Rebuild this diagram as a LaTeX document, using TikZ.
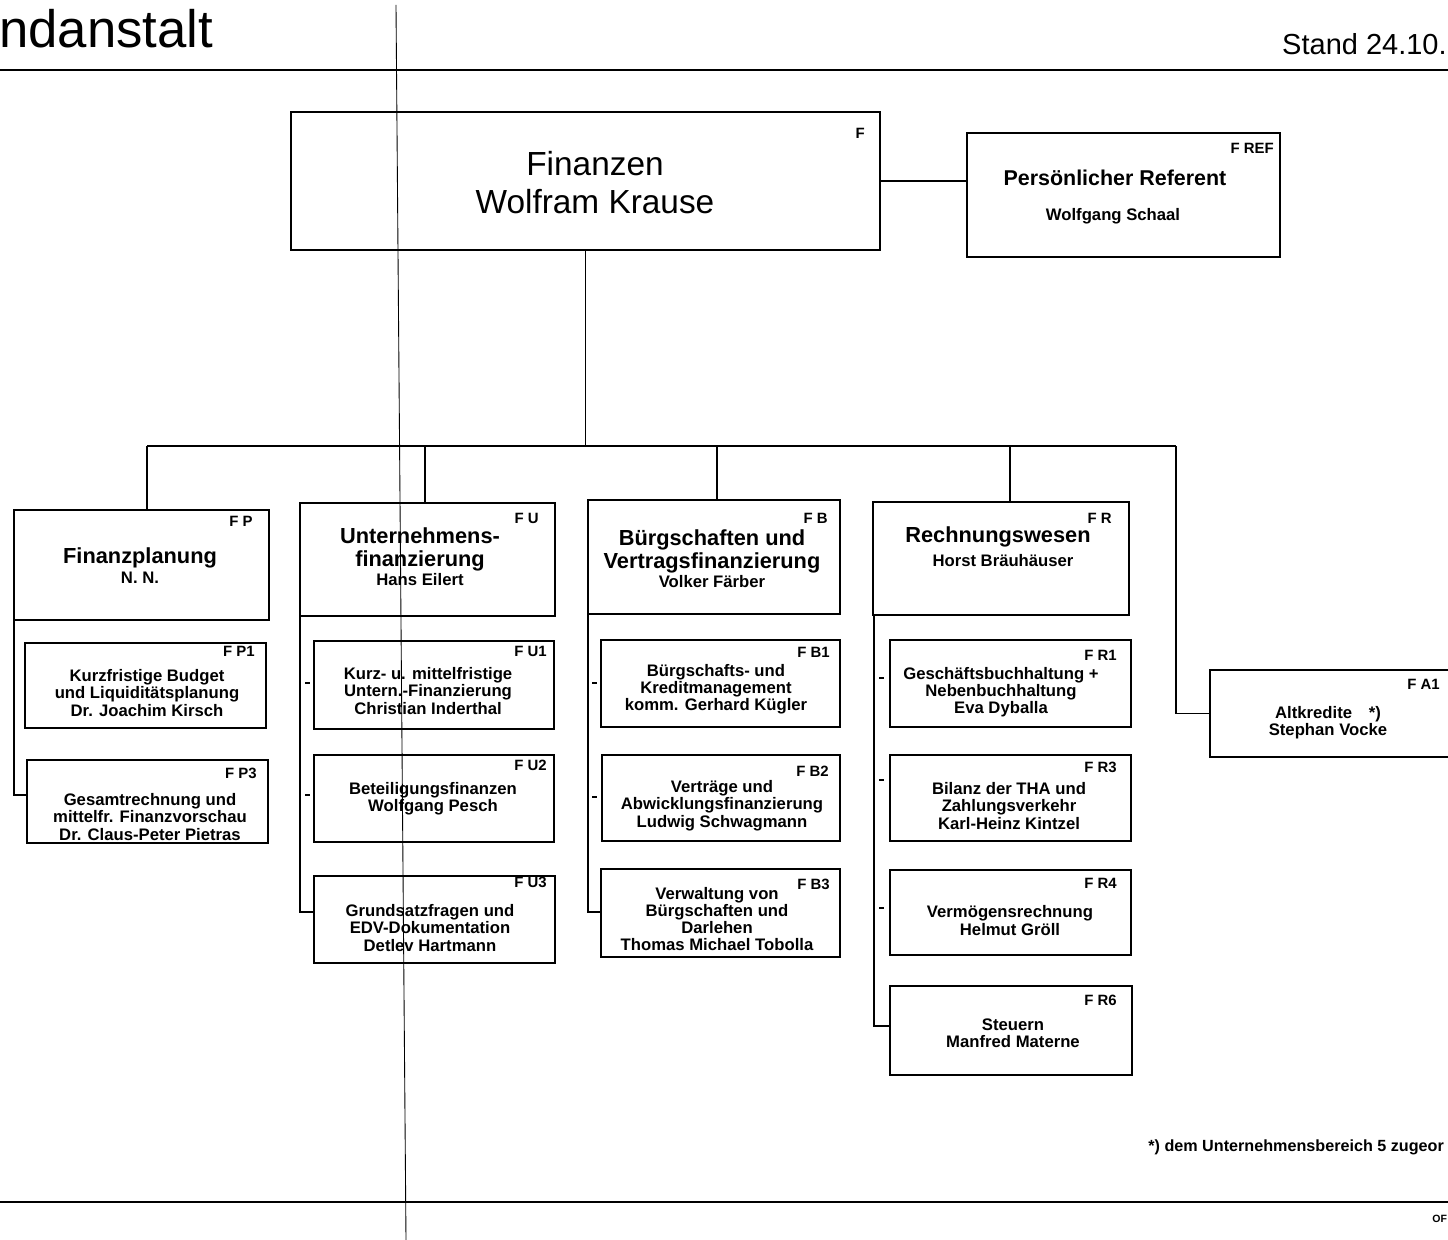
\documentclass[tikz,border=0pt]{standalone}
\usepackage{fontspec}
\setmainfont{Liberation Sans}
\usetikzlibrary{calc}
\begin{document}
\begin{tikzpicture}[x=0.02cm,y=-0.02cm,
  sz/.style 2 args={minimum width=#1*0.02cm, minimum height=#2*0.02cm},
  box/.style={draw, rectangle, inner sep=0pt, line width=0.85pt},
  deptbox/.style={box, line width=1.2pt},
  topbox/.style={box, line width=1.5pt},
  code/.style={font=\bfseries\fontsize{8.5}{9}\selectfont, inner sep=0pt, anchor=east},
  head/.style={font=\bfseries\fontsize{12.4}{13.1}\selectfont, align=center, inner sep=0pt},
  sub/.style={font=\bfseries\fontsize{9.5}{9.8}\selectfont, align=center, inner sep=0pt},
  link/.style={line width=1.1pt},
  stub/.style={line width=0.8pt},
  rule/.style={line width=1.4pt},
  seam/.style={line width=0.5pt}]
\useasboundingbox (0,0) rectangle (1448,1240);
\clip (0,0) rectangle (1448,1240);

% header and footer rules
\coordinate (ruleTL) at (0,70);   \coordinate (ruleTR) at (1448,70);
\coordinate (ruleBL) at (0,1202); \coordinate (ruleBR) at (1448,1202);
\draw[rule] (ruleTL) -- (ruleTR);
\draw[rule] (ruleBL) -- (ruleBR);
\node[anchor=base west, inner sep=0pt, font=\fontsize{30}{32}\selectfont] (title) at (-1,48) {ndanstalt};
\node[anchor=base east, inner sep=0pt, font=\fontsize{16.5}{18}\selectfont] (stand) at (1447,55) {Stand 24.10.};
\node[anchor=base west, inner sep=0pt, font=\bfseries\fontsize{6}{7}\selectfont] (ref) at (1432,1222) {OF};

% fold line of the sheet
\coordinate (seamA) at (396,5);
\coordinate (seamB) at (406,1240);
\draw[seam] (seamA) -- (seamB);

% top level
\node[topbox, sz={589}{138}] (F) at (585.5,181) {};
\node[inner sep=0pt, align=center, font=\fontsize{19}{21.6}\selectfont] (Ft) at (595,183) {Finanzen\\Wolfram Krause};
\node[code] (Fc) at (865,133) {F};

\node[box, sz={313}{124}] (FREF) at (1123.5,195) {};
\node[head, font=\bfseries\fontsize{12.2}{13}\selectfont] (FREFt) at (1115,178) {Persönlicher Referent};
\node[sub] (FREFn) at (1113,216) {Wolfgang Schaal};
\node[code] (FREFc) at (1274,148) {F REF};

% departments
\node[deptbox, sz={255}{110}] (FP) at (141.5,565) {};
\node[head] (FPt) at (140,558) {Finanzplanung};
\node[sub] (FPn) at (140,578) {N. N.};
\node[code] (FPc) at (253,521) {F P};

\node[deptbox, sz={255}{113}] (FU) at (427.5,559.5) {};
\node[head] (FUt) at (420,549.5) {Unternehmens-\\finanzierung};
\node[sub] (FUn) at (420,580) {Hans Eilert};
\node[code] (FUc) at (539,518) {F U};

\node[deptbox, sz={252}{114}] (FB) at (714,557) {};
\node[head] (FBt) at (712,551.5) {Bürgschaften und\\Vertragsfinanzierung};
\node[sub] (FBn) at (712,582) {Volker Färber};
\node[code] (FBc) at (828,518) {F B};

\node[deptbox, sz={256}{113}] (FR) at (1001,558.5) {};
\node[head] (FRt) at (998,537) {Rechnungswesen};
\node[sub] (FRn) at (1003,561) {Horst Bräuhäuser};
\node[code] (FRc) at (1112,518) {F R};

\node[box, sz={250}{87}] (FA1) at (1335,713.5) {};
\node[sub] (FA1t) at (1328,722.5) {Altkredite\quad *)\\Stephan Vocke};
\node[code] (FA1c) at (1440,684) {F A1};

% sections of Finanzplanung
\node[box, sz={241}{85}] (FP1) at (145.5,685.5) {};
\node[sub] (FP1t) at (147,693) {Kurzfristige Budget\\und Liquiditätsplanung\\Dr. Joachim Kirsch};
\node[code] (FP1c) at (255,651) {F P1};

\node[box, sz={241}{83}] (FP3) at (147.5,801.5) {};
\node[sub] (FP3t) at (150,817) {Gesamtrechnung und\\mittelfr. Finanzvorschau\\Dr. Claus-Peter Pietras};
\node[code] (FP3c) at (257,773) {F P3};

% sections of Unternehmensfinanzierung
\node[box, sz={240}{88}] (FU1) at (434,685) {};
\node[sub] (FU1t) at (428,691) {Kurz- u. mittelfristige\\Untern.-Finanzierung\\Christian Inderthal};
\node[code] (FU1c) at (547,651) {F U1};

\node[box, sz={240}{87}] (FU2) at (434,798.5) {};
\node[sub] (FU2t) at (433,799) {Beteiligungsfinanzen\\Wolfgang Pesch};
\node[code] (FU2c) at (547,765) {F U2};

\node[box, sz={241}{87}] (FU3) at (434.5,919.5) {};
\node[sub] (FU3t) at (430,928) {Grundsatzfragen und\\EDV-Dokumentation\\Detlev Hartmann};
\node[code] (FU3c) at (547,882) {F U3};

% sections of Buergschaften und Vertragsfinanzierung
\node[box, sz={239}{87}] (FB1) at (720.5,683.5) {};
\node[sub] (FB1t) at (716,689.5) {Bürgschafts- und\\Kreditmanagement\\komm. Gerhard Kügler};
\node[code] (FB1c) at (830,652) {F B1};

\node[box, sz={238}{86}] (FB2) at (721,798) {};
\node[sub] (FB2t) at (722,805.5) {Verträge und\\Abwicklungsfinanzierung\\Ludwig Schwagmann};
\node[code] (FB2c) at (829,771) {F B2};

\node[box, sz={239}{88}] (FB3) at (720.5,913) {};
\node[sub] (FB3t) at (717,919) {Verwaltung von\\Bürgschaften und\\Darlehen\\Thomas Michael Tobolla};
\node[code] (FB3c) at (830,884) {F B3};

% sections of Rechnungswesen
\node[box, sz={241}{87}] (FR1) at (1010.5,683.5) {};
\node[sub] (FR1t) at (1001,692) {Geschäftsbuchhaltung +\\Nebenbuchhaltung\\Eva Dyballa};
\node[code] (FR1c) at (1117,655) {F R1};

\node[box, sz={241}{86}] (FR3) at (1010.5,798) {};
\node[sub] (FR3t) at (1009,806) {Bilanz der THA und\\Zahlungsverkehr\\Karl-Heinz Kintzel};
\node[code] (FR3c) at (1117,767) {F R3};

\node[box, sz={241}{85}] (FR4) at (1010.5,912.5) {};
\node[sub] (FR4t) at (1010,920.5) {Vermögensrechnung\\Helmut Gröll};
\node[code] (FR4c) at (1117,883) {F R4};

\node[box, sz={242}{89}] (FR6) at (1011,1030.5) {};
\node[sub] (FR6t) at (1013,1033.5) {Steuern\\Manfred Materne};
\node[code] (FR6c) at (1117,1000) {F R6};

% footnote
\node[anchor=base west, inner sep=0pt, font=\bfseries\fontsize{9.2}{10}\selectfont] (note) at (1148,1151) {*) dem Unternehmensbereich 5 zugeor};

% connectors from the top box
\draw[link] (F.east) -- (F.east -| FREF.west);
\coordinate (busL) at (147,446);
\coordinate (busR) at (1176,446);
\coordinate (dropU) at (425,446);
\coordinate (dropB) at (717,446);
\coordinate (dropR) at (1010,446);
\draw[link] (F.south) -- (F.south |- busL);
\draw[link] (busL) -- (busR);
\draw[link] (busL) -- (busL |- FP.north);
\draw[link] (dropU) -- (dropU |- FU.north);
\draw[link] (dropB) -- (dropB |- FB.north);
\draw[link] (dropR) -- (dropR |- FR.north);
\draw[link] (busR) |- (FA1.west);

% spines down to the sections
\coordinate (FPend) at (27,795);
\coordinate (FUend) at (314,912);
\coordinate (FBend) at (601,912);
\coordinate (FRend) at (890,1026);
\draw[link] ([xshift=0.5pt]FP.south west) |- (FPend);
\draw[link] ([xshift=0.5pt]FU.south west) |- (FUend);
\draw[link] ([xshift=0.5pt]FB.south west) |- (FBend);
\draw[link] ([xshift=1pt]FR.south west) |- (FRend);

% short marks beside the spines
\coordinate (mU1) at (305,683); \coordinate (mU2) at (305,795);
\coordinate (mB1) at (592,683); \coordinate (mB2) at (592,797);
\coordinate (mR1) at (879,678); \coordinate (mR2) at (879,780); \coordinate (mR3) at (879,908);
\foreach \m in {mU1,mU2,mB1,mB2,mR1,mR2,mR3}
  \draw[stub] (\m) -- ++(5,0);
\end{tikzpicture}
\end{document}
